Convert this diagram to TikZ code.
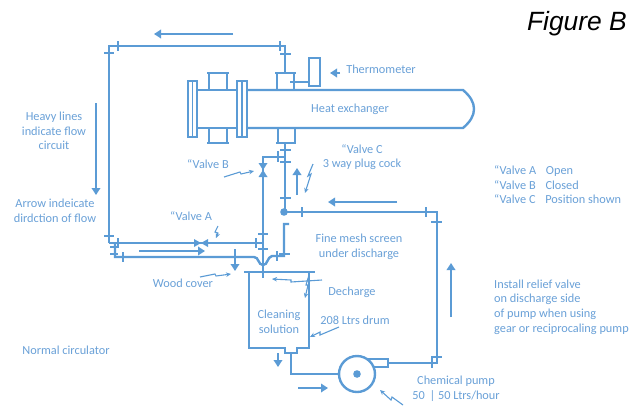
\documentclass[tikz,border=0pt]{standalone}
\usepackage{fontspec}
\setmainfont{Carlito}
\newfontfamily\figfont{Liberation Sans}
\usetikzlibrary{arrows.meta}
\definecolor{pipeblue}{RGB}{91,155,213}
\definecolor{labelblue}{RGB}{105,160,215}
\tikzset{
    pipe/.style={draw=pipeblue, line width=2.4pt},
    thin pipe/.style={draw=pipeblue, line width=1.9pt},
    flow/.style={draw=pipeblue, line width=2pt, -{Triangle[length=7pt,width=8.5pt]}},
    pointer/.style={draw=pipeblue, line width=1.1pt, -{Stealth[length=5pt,width=4.5pt]}},
    label/.style={text=labelblue, font=\fontsize{12.3}{14.6}\selectfont, inner sep=0pt, align=center}
}
\begin{document}
\begin{tikzpicture}[x=1pt, y=-1pt]
    \useasboundingbox (0,0) rectangle (644,405);

    % Hauptkreislauf oben
    \draw[pipe] (109,243) -- (109,46) -- (285,46) -- (285,73);
    \draw[thin pipe] (118,41) -- (118,51);
    \draw[thin pipe] (280,41) -- (280,51);
    \draw[thin pipe] (104,53) -- (114,53);
    \draw[thin pipe] (280,54) -- (291,54);

    % Waermetauscher
    \draw[pipe] (198,90) -- (237,90);
    \draw[pipe] (198,128) -- (237,128);
    \draw[pipe] (247,90) -- (463,90) .. controls (470,96) and (474,102) .. (474,109) .. controls (474,116) and (470,122) .. (463,128) -- (247,128);
    \draw[pipe] (188,81) rectangle (197,137);
    \draw[thin pipe] (192.5,81) -- (192.5,137);
    \draw[pipe] (237,81) rectangle (247,137);
    \draw[thin pipe] (242,81) -- (242,137);
    % Stutzen
    \draw[pipe] (207,73) -- (229,73);
    \draw[pipe] (207,143) -- (229,143);
    \draw[pipe] (209,73) -- (209,90);
    \draw[pipe] (227,73) -- (227,90);
    \draw[pipe] (209,128) -- (209,143);
    \draw[pipe] (227,128) -- (227,143);
    \draw[pipe] (275,73) -- (296,73);
    \draw[pipe] (277,73) -- (277,90);
    \draw[pipe] (294,73) -- (294,90);
    \draw[pipe] (276,143) -- (296,143);
    \draw[pipe] (278,128) -- (278,143);
    \draw[pipe] (295,128) -- (295,143);
    % Thermometer
    \draw[pipe] (309,58) rectangle (320,86);
    \draw[thin pipe] (290,82) -- (309,82);

    % Ventil C
    \draw[pipe] (285,143) -- (285,212);
    \draw[thin pipe] (280,150) -- (291,150);
    \draw[thin pipe] (280,162) -- (291,162);
    \draw[thin pipe] (280,198) -- (291,198);
    \draw[pipe] (285,157) -- (263,157) -- (263,278);
    \draw[thin pipe] (278,151) -- (278,162);
    \fill[pipeblue] (284,212) circle (3.8);
    \draw[pipe] (285,212) -- (437,212) -- (437,363) -- (388,363);
    \draw[thin pipe] (302,207) -- (302,217);
    \draw[thin pipe] (426,207) -- (426,217);
    \draw[thin pipe] (431,222) -- (442,222);
    \draw[thin pipe] (431,357) -- (442,357);
    \draw[thin pipe] (432,357) -- (432,368);

    % Ventil B
    \fill[pipeblue] (263,170) -- (258.5,163) -- (267.5,163) -- cycle;
    \fill[pipeblue] (263,170) -- (258.5,177) -- (267.5,177) -- cycle;

    % Ventil A und Ruecklauf
    \draw[pipe] (109,243) -- (263,243);
    \fill[pipeblue] (201,243) -- (194,239) -- (194,247) -- cycle;
    \fill[pipeblue] (201,243) -- (208,239) -- (208,247) -- cycle;
    \draw[thin pipe] (104,236) -- (114,236);
    \draw[thin pipe] (118,238) -- (118,248);
    \draw[thin pipe] (256,238) -- (256,248);
    \draw[thin pipe] (258,234) -- (268,234);
    \draw[thin pipe] (258,249) -- (268,249);
    \draw[thin pipe] (110,247) -- (118,247);
    \draw[thin pipe] (110,254) -- (118,254);
    \draw[pipe] (115,243) -- (115,257) -- (254,257) .. controls (259,257) and (258,265) .. (263,265) .. controls (268,265) and (267,257) .. (272,256) -- (284,256) -- (284,224) -- (289,224);
    \draw[thin pipe] (123,252) -- (123,262);
    \draw[thin pipe] (277,251) -- (277,261);
    \draw[thin pipe] (279,254) -- (290,254);

    % Trommel
    \draw[thin pipe] (244,272) -- (315,272);
    \draw[thin pipe] (249,272) -- (249,348) -- (285,348) -- (285,353) -- (297,353) -- (297,348) -- (309,348) -- (309,272);
    \draw[pipe] (291,353) -- (291,374) -- (339,374);

    % Pumpe
    \draw[pipe] (357,374) circle (18);
    \fill[pipeblue] (357,374) circle (3.8);
    \draw[thin pipe] (368,359) -- (388,359) -- (388,367) -- (373,367);

    % Stroemungspfeile
    \draw[flow] (233,34) -- (154,34);
    \draw[flow] (96,103) -- (96,195);
    \draw[flow] (139,251) -- (205,251);
    \draw[flow] (235,249) -- (235,271);
    \draw[flow] (297,195) -- (297,168);
    \draw[flow] (397,202) -- (328,202);
    \draw[flow] (451,317) -- (451,263);
    \draw[flow] (278,353) -- (278,367);
    \draw[flow] (298,388) -- (328,388);
    \draw[flow] (340,73) -- (330,73);

    % Blitzpfeile
    \draw[pointer] (224,177) -- (240,172) -- (241,174) -- (254,171);
    \draw[pointer] (313,164) -- (308,176) -- (311,174) -- (305,193);
    \draw[pointer] (218,226) -- (215,232) -- (218,233) -- (216,238);
    \draw[pointer] (200,277) -- (215,274) -- (216,276) -- (231,274);
    \draw[pointer] (322,280) -- (291,282) -- (291,280) -- (272,279);
    \draw[pointer] (309,275) -- (306,285) -- (308,285) -- (305,298);
    \draw[pointer] (339,327) -- (320,335) -- (320,332) -- (310,337);
    \draw[pointer] (403,405) -- (392,397) -- (391,400) -- (380,390);

    % Beschriftung
    \node[font=\figfont\itshape\fontsize{26.4}{30}\selectfont, anchor=east, inner sep=0pt] (figlabel) at (627,24) {Figure B};
    \node[label] (thermometer) at (381,69) {Thermometer};
    \node[label] (heatex) at (350,109) {Heat exchanger};
    \node[label] (valvecnote) at (362,157) {``Valve C\\3 way plug cock};
    \node[label] (valveb) at (208,164) {``Valve B};
    \node[label] (valvea) at (191,216) {``Valve A};
    \node[label] (flowcircuit) at (54,131) {Heavy lines\\indicate flow\\circuit};
    \node[label] (arrownote) at (55,211) {Arrow indeicate\\dirdction of flow};
    \node[label] (screen) at (359,247) {Fine mesh screen\\under discharge};
    \node[label] (woodcover) at (183,283) {Wood cover};
    \node[label] (decharge) at (352,292) {Decharge};
    \node[label] (solution) at (279,322) {Cleaning\\solution};
    \node[label] (drum) at (355,320) {208 Ltrs drum};
    \node[label] (normal) at (66,350) {Normal circulator};
    \node[label] (pump) at (456,389) {Chemical pump\\50 \,| 50 Ltrs/hour};
    \node[label, align=left, anchor=west] (valvestate) at (494,185) {``Valve A\hspace{7pt} Open\\``Valve B\hspace{7pt} Closed\\``Valve C\hspace{7pt} Position shown};
    \node[label, align=left, anchor=west] (relief) at (494,307) {Install relief valve\\on discharge side\\of pump when using\\gear or reciprocaling pump};
\end{tikzpicture}
\end{document}
